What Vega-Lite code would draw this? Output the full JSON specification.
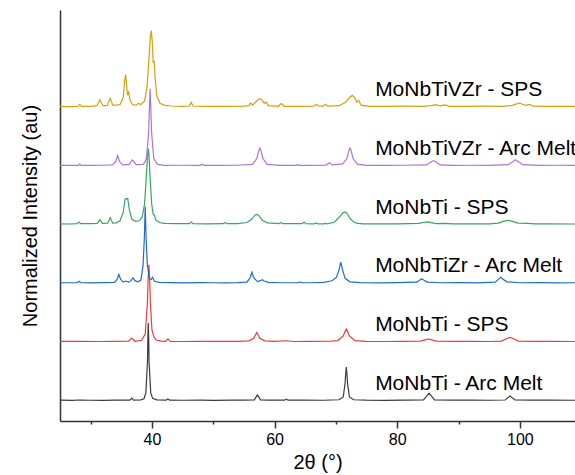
{
  "$schema": "https://vega.github.io/schema/vega-lite/v6.json",
  "width": 515,
  "height": 411,
  "autosize": {"type": "none"},
  "padding": {"left": 60, "top": 10, "right": 0, "bottom": 54},
  "background": "white",
  "config": {"view": {"stroke": null}, "font": "Liberation Sans"},
  "datasets": {
    "xrd": [
      {"run":0,"t":25,"i":0.005},{"run":0,"t":27,"i":0.0},{"run":0,"t":28.2,"i":0.008},{"run":0,"t":30,"i":0.003},{"run":0,"t":32,"i":0.0},{"run":0,"t":34,"i":0.005},{"run":0,"t":35.5,"i":0.004},{"run":0,"t":36.4,"i":0.005},{"run":0,"t":36.7,"i":0.04},{"run":0,"t":37.0,"i":0.005},{"run":0,"t":38.2,"i":0.01},{"run":0,"t":38.7,"i":0.03},{"run":0,"t":39.0,"i":0.13},{"run":0,"t":39.27,"i":0.66},{"run":0,"t":39.33,"i":1.05},{"run":0,"t":39.4,"i":1.32},{"run":0,"t":39.47,"i":1.05},{"run":0,"t":39.53,"i":0.66},{"run":0,"t":39.8,"i":0.13},{"run":0,"t":40.1,"i":0.035},{"run":0,"t":40.8,"i":0.01},{"run":0,"t":42.3,"i":0.005},{"run":0,"t":42.6,"i":0.025},{"run":0,"t":42.9,"i":0.004},{"run":0,"t":45,"i":0.003},{"run":0,"t":48,"i":0.006},{"run":0,"t":50,"i":0.002},{"run":0,"t":53,"i":0.005},{"run":0,"t":55,"i":0.004},{"run":0,"t":56.7,"i":0.01},{"run":0,"t":57.2,"i":0.094},{"run":0,"t":57.7,"i":0.01},{"run":0,"t":59,"i":0.005},{"run":0,"t":61.6,"i":0.004},{"run":0,"t":61.9,"i":0.02},{"run":0,"t":62.2,"i":0.004},{"run":0,"t":65,"i":0.006},{"run":0,"t":68,"i":0.003},{"run":0,"t":70.5,"i":0.012},{"run":0,"t":71.2,"i":0.06},{"run":0,"t":71.5,"i":0.29},{"run":0,"t":71.6,"i":0.46},{"run":0,"t":71.7,"i":0.57},{"run":0,"t":71.8,"i":0.46},{"run":0,"t":71.9,"i":0.29},{"run":0,"t":72.2,"i":0.06},{"run":0,"t":72.9,"i":0.012},{"run":0,"t":75,"i":0.005},{"run":0,"t":78,"i":0.002},{"run":0,"t":81,"i":0.006},{"run":0,"t":84.3,"i":0.01},{"run":0,"t":85.2,"i":0.123},{"run":0,"t":86.1,"i":0.01},{"run":0,"t":89,"i":0.004},{"run":0,"t":92,"i":0.006},{"run":0,"t":95,"i":0.003},{"run":0,"t":97.6,"i":0.008},{"run":0,"t":98.4,"i":0.077},{"run":0,"t":99.2,"i":0.008},{"run":0,"t":102,"i":0.004},{"run":0,"t":105,"i":0.006},{"run":0,"t":109,"i":0.003},

      {"run":1,"t":25,"i":1.005},{"run":1,"t":28,"i":1.008},{"run":1,"t":31,"i":1.004},{"run":1,"t":34,"i":1.006},{"run":1,"t":36.2,"i":1.008},{"run":1,"t":36.7,"i":1.063},{"run":1,"t":37.2,"i":1.008},{"run":1,"t":38.3,"i":1.025},{"run":1,"t":38.9,"i":1.13},{"run":1,"t":39.25,"i":1.65},{"run":1,"t":39.37,"i":2.05},{"run":1,"t":39.5,"i":2.31},{"run":1,"t":39.63,"i":2.05},{"run":1,"t":39.75,"i":1.65},{"run":1,"t":40.0,"i":1.2},{"run":1,"t":40.3,"i":1.085},{"run":1,"t":40.7,"i":1.03},{"run":1,"t":41.5,"i":1.01},{"run":1,"t":42.2,"i":1.006},{"run":1,"t":42.6,"i":1.05},{"run":1,"t":43.0,"i":1.006},{"run":1,"t":45,"i":1.004},{"run":1,"t":48,"i":1.008},{"run":1,"t":51,"i":1.005},{"run":1,"t":54,"i":1.007},{"run":1,"t":55.8,"i":1.015},{"run":1,"t":56.6,"i":1.06},{"run":1,"t":56.9,"i":1.12},{"run":1,"t":57.1,"i":1.158},{"run":1,"t":57.3,"i":1.12},{"run":1,"t":57.6,"i":1.06},{"run":1,"t":58.4,"i":1.015},{"run":1,"t":60,"i":1.005},{"run":1,"t":61.9,"i":1.017},{"run":1,"t":63,"i":1.004},{"run":1,"t":66,"i":1.006},{"run":1,"t":69,"i":1.008},{"run":1,"t":70.3,"i":1.02},{"run":1,"t":71.2,"i":1.1},{"run":1,"t":71.5,"i":1.18},{"run":1,"t":71.7,"i":1.216},{"run":1,"t":71.9,"i":1.18},{"run":1,"t":72.2,"i":1.1},{"run":1,"t":73.1,"i":1.02},{"run":1,"t":75,"i":1.006},{"run":1,"t":78,"i":1.004},{"run":1,"t":81,"i":1.007},{"run":1,"t":83.8,"i":1.01},{"run":1,"t":84.7,"i":1.035},{"run":1,"t":85.1,"i":1.046},{"run":1,"t":85.5,"i":1.035},{"run":1,"t":86.4,"i":1.01},{"run":1,"t":89,"i":1.005},{"run":1,"t":92,"i":1.007},{"run":1,"t":95,"i":1.004},{"run":1,"t":97.0,"i":1.012},{"run":1,"t":97.9,"i":1.055},{"run":1,"t":98.4,"i":1.073},{"run":1,"t":98.9,"i":1.055},{"run":1,"t":99.8,"i":1.012},{"run":1,"t":102,"i":1.005},{"run":1,"t":105,"i":1.007},{"run":1,"t":109,"i":1.004},

      {"run":2,"t":25,"i":2.005},{"run":2,"t":27.8,"i":2.005},{"run":2,"t":28.1,"i":2.03},{"run":2,"t":28.4,"i":2.005},{"run":2,"t":30,"i":2.004},{"run":2,"t":32,"i":2.007},{"run":2,"t":33.9,"i":2.01},{"run":2,"t":34.3,"i":2.06},{"run":2,"t":34.6,"i":2.145},{"run":2,"t":34.9,"i":2.06},{"run":2,"t":35.3,"i":2.015},{"run":2,"t":35.7,"i":2.034},{"run":2,"t":36.2,"i":2.015},{"run":2,"t":36.6,"i":2.04},{"run":2,"t":36.9,"i":2.089},{"run":2,"t":37.2,"i":2.04},{"run":2,"t":37.7,"i":2.02},{"run":2,"t":38.2,"i":2.05},{"run":2,"t":38.55,"i":2.3},{"run":2,"t":38.75,"i":2.75},{"run":2,"t":38.9,"i":3.3},{"run":2,"t":39.05,"i":2.75},{"run":2,"t":39.25,"i":2.3},{"run":2,"t":39.6,"i":2.07},{"run":2,"t":39.85,"i":2.06},{"run":2,"t":40.1,"i":2.1},{"run":2,"t":40.4,"i":2.03},{"run":2,"t":41.2,"i":2.01},{"run":2,"t":43,"i":2.006},{"run":2,"t":45,"i":2.004},{"run":2,"t":48,"i":2.007},{"run":2,"t":50,"i":2.005},{"run":2,"t":52,"i":2.004},{"run":2,"t":54,"i":2.006},{"run":2,"t":55.5,"i":2.015},{"run":2,"t":56.0,"i":2.09},{"run":2,"t":56.3,"i":2.184},{"run":2,"t":56.6,"i":2.09},{"run":2,"t":57.2,"i":2.025},{"run":2,"t":57.7,"i":2.04},{"run":2,"t":58.0,"i":2.055},{"run":2,"t":58.3,"i":2.035},{"run":2,"t":59,"i":2.01},{"run":2,"t":61,"i":2.005},{"run":2,"t":63.9,"i":2.006},{"run":2,"t":64.2,"i":2.017},{"run":2,"t":64.5,"i":2.006},{"run":2,"t":66,"i":2.005},{"run":2,"t":68,"i":2.01},{"run":2,"t":69.2,"i":2.035},{"run":2,"t":69.6,"i":2.055},{"run":2,"t":70.1,"i":2.1},{"run":2,"t":70.5,"i":2.22},{"run":2,"t":70.8,"i":2.354},{"run":2,"t":71.1,"i":2.22},{"run":2,"t":71.5,"i":2.08},{"run":2,"t":72.3,"i":2.02},{"run":2,"t":74,"i":2.007},{"run":2,"t":77,"i":2.004},{"run":2,"t":80,"i":2.006},{"run":2,"t":83.2,"i":2.015},{"run":2,"t":83.7,"i":2.05},{"run":2,"t":84.0,"i":2.072},{"run":2,"t":84.3,"i":2.05},{"run":2,"t":84.9,"i":2.015},{"run":2,"t":87,"i":2.005},{"run":2,"t":90,"i":2.007},{"run":2,"t":93,"i":2.004},{"run":2,"t":96.0,"i":2.015},{"run":2,"t":96.6,"i":2.07},{"run":2,"t":96.9,"i":2.099},{"run":2,"t":97.2,"i":2.07},{"run":2,"t":97.9,"i":2.02},{"run":2,"t":100,"i":2.005},{"run":2,"t":103,"i":2.006},{"run":2,"t":106,"i":2.004},{"run":2,"t":109,"i":2.005},

      {"run":3,"t":25,"i":3.008},{"run":3,"t":26.5,"i":3.005},{"run":3,"t":27.8,"i":3.012},{"run":3,"t":28.1,"i":3.04},{"run":3,"t":28.4,"i":3.012},{"run":3,"t":30,"i":3.01},{"run":3,"t":31.1,"i":3.015},{"run":3,"t":31.5,"i":3.08},{"run":3,"t":31.9,"i":3.015},{"run":3,"t":32.8,"i":3.02},{"run":3,"t":33.2,"i":3.114},{"run":3,"t":33.6,"i":3.02},{"run":3,"t":34.2,"i":3.025},{"run":3,"t":34.8,"i":3.06},{"run":3,"t":35.3,"i":3.2},{"run":3,"t":35.6,"i":3.42},{"run":3,"t":35.75,"i":3.44},{"run":3,"t":35.9,"i":3.43},{"run":3,"t":36.05,"i":3.44},{"run":3,"t":36.3,"i":3.25},{"run":3,"t":36.7,"i":3.09},{"run":3,"t":37.3,"i":3.05},{"run":3,"t":37.9,"i":3.06},{"run":3,"t":38.4,"i":3.12},{"run":3,"t":38.8,"i":3.35},{"run":3,"t":39.1,"i":3.85},{"run":3,"t":39.3,"i":4.2},{"run":3,"t":39.4,"i":4.29},{"run":3,"t":39.5,"i":4.2},{"run":3,"t":39.7,"i":3.8},{"run":3,"t":39.95,"i":3.35},{"run":3,"t":40.2,"i":3.17},{"run":3,"t":40.4,"i":3.153},{"run":3,"t":40.6,"i":3.08},{"run":3,"t":41.2,"i":3.03},{"run":3,"t":42,"i":3.015},{"run":3,"t":44,"i":3.01},{"run":3,"t":46.1,"i":3.012},{"run":3,"t":46.4,"i":3.04},{"run":3,"t":46.7,"i":3.012},{"run":3,"t":49,"i":3.008},{"run":3,"t":51.6,"i":3.01},{"run":3,"t":51.9,"i":3.03},{"run":3,"t":52.2,"i":3.01},{"run":3,"t":54,"i":3.012},{"run":3,"t":55.5,"i":3.03},{"run":3,"t":56.3,"i":3.09},{"run":3,"t":56.8,"i":3.16},{"run":3,"t":57.1,"i":3.17},{"run":3,"t":57.4,"i":3.15},{"run":3,"t":58.0,"i":3.07},{"run":3,"t":58.8,"i":3.025},{"run":3,"t":60.7,"i":3.01},{"run":3,"t":61.0,"i":3.03},{"run":3,"t":61.3,"i":3.01},{"run":3,"t":63,"i":3.01},{"run":3,"t":64.5,"i":3.012},{"run":3,"t":64.8,"i":3.04},{"run":3,"t":65.1,"i":3.012},{"run":3,"t":66.5,"i":3.008},{"run":3,"t":66.8,"i":3.022},{"run":3,"t":67.1,"i":3.008},{"run":3,"t":68.0,"i":3.008},{"run":3,"t":68.3,"i":3.017},{"run":3,"t":68.6,"i":3.008},{"run":3,"t":69.8,"i":3.04},{"run":3,"t":70.7,"i":3.14},{"run":3,"t":71.2,"i":3.2},{"run":3,"t":71.5,"i":3.21},{"run":3,"t":71.8,"i":3.19},{"run":3,"t":72.3,"i":3.1},{"run":3,"t":73.0,"i":3.03},{"run":3,"t":73.6,"i":3.017},{"run":3,"t":74.5,"i":3.008},{"run":3,"t":77,"i":3.006},{"run":3,"t":80,"i":3.008},{"run":3,"t":83.5,"i":3.015},{"run":3,"t":84.4,"i":3.035},{"run":3,"t":84.9,"i":3.04},{"run":3,"t":85.4,"i":3.033},{"run":3,"t":86.3,"i":3.012},{"run":3,"t":87.8,"i":3.017},{"run":3,"t":89,"i":3.007},{"run":3,"t":92,"i":3.006},{"run":3,"t":95,"i":3.008},{"run":3,"t":96.5,"i":3.02},{"run":3,"t":97.4,"i":3.055},{"run":3,"t":98.1,"i":3.068},{"run":3,"t":98.8,"i":3.05},{"run":3,"t":99.7,"i":3.02},{"run":3,"t":101.3,"i":3.017},{"run":3,"t":102.5,"i":3.006},{"run":3,"t":105,"i":3.007},{"run":3,"t":109,"i":3.005},

      {"run":4,"t":25,"i":4.004},{"run":4,"t":28.0,"i":4.005},{"run":4,"t":28.2,"i":4.03},{"run":4,"t":28.4,"i":4.005},{"run":4,"t":30,"i":4.004},{"run":4,"t":32,"i":4.006},{"run":4,"t":33.6,"i":4.012},{"run":4,"t":34.1,"i":4.07},{"run":4,"t":34.4,"i":4.17},{"run":4,"t":34.7,"i":4.07},{"run":4,"t":35.2,"i":4.012},{"run":4,"t":36.3,"i":4.02},{"run":4,"t":36.6,"i":4.07},{"run":4,"t":36.8,"i":4.097},{"run":4,"t":37.0,"i":4.07},{"run":4,"t":37.4,"i":4.015},{"run":4,"t":38.6,"i":4.02},{"run":4,"t":39.1,"i":4.12},{"run":4,"t":39.45,"i":4.55},{"run":4,"t":39.6,"i":5.0},{"run":4,"t":39.7,"i":5.31},{"run":4,"t":39.8,"i":5.0},{"run":4,"t":39.95,"i":4.55},{"run":4,"t":40.3,"i":4.12},{"run":4,"t":40.9,"i":4.02},{"run":4,"t":42,"i":4.005},{"run":4,"t":45,"i":4.006},{"run":4,"t":47.9,"i":4.005},{"run":4,"t":48.2,"i":4.025},{"run":4,"t":48.5,"i":4.005},{"run":4,"t":51,"i":4.004},{"run":4,"t":54,"i":4.006},{"run":4,"t":56.4,"i":4.02},{"run":4,"t":57.1,"i":4.12},{"run":4,"t":57.4,"i":4.25},{"run":4,"t":57.6,"i":4.3},{"run":4,"t":57.8,"i":4.25},{"run":4,"t":58.1,"i":4.12},{"run":4,"t":58.8,"i":4.02},{"run":4,"t":61,"i":4.004},{"run":4,"t":63.5,"i":4.004},{"run":4,"t":63.8,"i":4.017},{"run":4,"t":64.1,"i":4.004},{"run":4,"t":66,"i":4.005},{"run":4,"t":68.4,"i":4.008},{"run":4,"t":69.0,"i":4.05},{"run":4,"t":69.4,"i":4.012},{"run":4,"t":71.1,"i":4.03},{"run":4,"t":71.8,"i":4.12},{"run":4,"t":72.1,"i":4.25},{"run":4,"t":72.3,"i":4.3},{"run":4,"t":72.5,"i":4.25},{"run":4,"t":72.8,"i":4.12},{"run":4,"t":73.5,"i":4.025},{"run":4,"t":75,"i":4.005},{"run":4,"t":78,"i":4.004},{"run":4,"t":81,"i":4.006},{"run":4,"t":84.8,"i":4.012},{"run":4,"t":85.5,"i":4.06},{"run":4,"t":85.9,"i":4.085},{"run":4,"t":86.3,"i":4.06},{"run":4,"t":87.0,"i":4.012},{"run":4,"t":89,"i":4.004},{"run":4,"t":92,"i":4.006},{"run":4,"t":95,"i":4.005},{"run":4,"t":98.1,"i":4.015},{"run":4,"t":98.9,"i":4.07},{"run":4,"t":99.3,"i":4.1},{"run":4,"t":99.7,"i":4.07},{"run":4,"t":100.5,"i":4.015},{"run":4,"t":103,"i":4.004},{"run":4,"t":106,"i":4.006},{"run":4,"t":109,"i":4.004},

      {"run":5,"t":25,"i":5.008},{"run":5,"t":26.5,"i":5.006},{"run":5,"t":27.9,"i":5.01},{"run":5,"t":28.2,"i":5.043},{"run":5,"t":28.5,"i":5.01},{"run":5,"t":30,"i":5.008},{"run":5,"t":31.0,"i":5.02},{"run":5,"t":31.5,"i":5.12},{"run":5,"t":32.0,"i":5.02},{"run":5,"t":32.7,"i":5.02},{"run":5,"t":33.2,"i":5.145},{"run":5,"t":33.6,"i":5.03},{"run":5,"t":34.2,"i":5.03},{"run":5,"t":34.8,"i":5.04},{"run":5,"t":35.3,"i":5.15},{"run":5,"t":35.55,"i":5.45},{"run":5,"t":35.7,"i":5.55},{"run":5,"t":35.85,"i":5.4},{"run":5,"t":36.0,"i":5.2},{"run":5,"t":36.2,"i":5.25},{"run":5,"t":36.4,"i":5.12},{"run":5,"t":36.8,"i":5.04},{"run":5,"t":37.4,"i":5.03},{"run":5,"t":37.8,"i":5.06},{"run":5,"t":38.2,"i":5.04},{"run":5,"t":38.8,"i":5.1},{"run":5,"t":39.2,"i":5.35},{"run":5,"t":39.5,"i":5.8},{"run":5,"t":39.75,"i":6.2},{"run":5,"t":39.9,"i":6.3},{"run":5,"t":40.05,"i":6.1},{"run":5,"t":40.2,"i":5.75},{"run":5,"t":40.35,"i":5.79},{"run":5,"t":40.5,"i":5.5},{"run":5,"t":40.8,"i":5.18},{"run":5,"t":41.3,"i":5.06},{"run":5,"t":42,"i":5.03},{"run":5,"t":43,"i":5.015},{"run":5,"t":45,"i":5.01},{"run":5,"t":46.1,"i":5.015},{"run":5,"t":46.4,"i":5.077},{"run":5,"t":46.7,"i":5.015},{"run":5,"t":48.5,"i":5.008},{"run":5,"t":51,"i":5.01},{"run":5,"t":53,"i":5.008},{"run":5,"t":55.0,"i":5.012},{"run":5,"t":55.8,"i":5.02},{"run":5,"t":56.1,"i":5.065},{"run":5,"t":56.4,"i":5.03},{"run":5,"t":57.1,"i":5.1},{"run":5,"t":57.5,"i":5.14},{"run":5,"t":57.9,"i":5.12},{"run":5,"t":58.3,"i":5.06},{"run":5,"t":58.6,"i":5.08},{"run":5,"t":59.0,"i":5.02},{"run":5,"t":60.6,"i":5.01},{"run":5,"t":61.1,"i":5.055},{"run":5,"t":61.6,"i":5.01},{"run":5,"t":64,"i":5.008},{"run":5,"t":66.4,"i":5.012},{"run":5,"t":66.8,"i":5.043},{"run":5,"t":67.2,"i":5.015},{"run":5,"t":67.9,"i":5.012},{"run":5,"t":68.3,"i":5.043},{"run":5,"t":68.7,"i":5.012},{"run":5,"t":70.5,"i":5.02},{"run":5,"t":71.6,"i":5.08},{"run":5,"t":72.3,"i":5.17},{"run":5,"t":72.7,"i":5.196},{"run":5,"t":73.1,"i":5.15},{"run":5,"t":73.4,"i":5.08},{"run":5,"t":73.7,"i":5.11},{"run":5,"t":74.1,"i":5.03},{"run":5,"t":75.5,"i":5.01},{"run":5,"t":78,"i":5.008},{"run":5,"t":81,"i":5.012},{"run":5,"t":84,"i":5.01},{"run":5,"t":85.5,"i":5.02},{"run":5,"t":86.3,"i":5.037},{"run":5,"t":87.0,"i":5.018},{"run":5,"t":87.8,"i":5.034},{"run":5,"t":88.5,"i":5.01},{"run":5,"t":91,"i":5.008},{"run":5,"t":94,"i":5.012},{"run":5,"t":97,"i":5.01},{"run":5,"t":98.8,"i":5.025},{"run":5,"t":99.6,"i":5.055},{"run":5,"t":100.0,"i":5.065},{"run":5,"t":100.5,"i":5.04},{"run":5,"t":101.0,"i":5.025},{"run":5,"t":101.6,"i":5.043},{"run":5,"t":102.2,"i":5.012},{"run":5,"t":104,"i":5.008},{"run":5,"t":106,"i":5.01},{"run":5,"t":109,"i":5.008}
    ],
    "samples": [
      {"run":0,"sample":"MoNbTi - Arc Melt"},
      {"run":1,"sample":"MoNbTi - SPS"},
      {"run":2,"sample":"MoNbTiZr - Arc Melt"},
      {"run":3,"sample":"MoNbTi - SPS"},
      {"run":4,"sample":"MoNbTiVZr - Arc Melt"},
      {"run":5,"sample":"MoNbTiVZr - SPS"}
    ]
  },
  "data": {"name": "xrd"},
  "layer": [
    {
      "mark": {"type": "line", "strokeWidth": 1.2, "clip": true, "interpolate": "linear"},
      "encoding": {
        "x": {
          "field": "t",
          "type": "quantitative",
          "scale": {"domain": [25, 109], "nice": false, "zero": false},
          "axis": {
            "title": "2θ (°)",
            "values": [30, 40, 50, 60, 70, 80, 90, 100],
            "labelExpr": "datum.value % 20 === 0 ? datum.label : ''",
            "tickSize": {"condition": {"test": "datum.value % 20 === 0", "value": 7}, "value": 3},
            "grid": false,
            "domainColor": "#333333",
            "domainWidth": 1.5,
            "tickColor": "#333333",
            "tickWidth": 1.5,
            "labelFont": "Liberation Sans",
            "labelFontSize": 16,
            "labelColor": "#000000",
            "labelPadding": 3,
            "labelOverlap": false,
            "labelFlush": false,
            "titleFont": "Liberation Sans",
            "titleFontSize": 20,
            "titleFontWeight": "normal",
            "titleColor": "#000000",
            "titlePadding": 5
          }
        },
        "y": {
          "field": "i",
          "type": "quantitative",
          "scale": {"domain": [-0.35, 6.65], "nice": false, "zero": false},
          "axis": {
            "title": "Normalized Intensity (au)",
            "labels": false,
            "ticks": false,
            "grid": false,
            "domainColor": "#333333",
            "domainWidth": 1.5,
            "titleFont": "Liberation Sans",
            "titleFontSize": 20,
            "titleFontWeight": "normal",
            "titleColor": "#000000",
            "titlePadding": 20
          }
        },
        "color": {
          "field": "run",
          "type": "nominal",
          "scale": {
            "domain": [0, 1, 2, 3, 4, 5],
            "range": ["#3c3c3c", "#ee3b3b", "#1f6bd6", "#35a85e", "#ad73de", "#d4a10a"]
          },
          "legend": null
        }
      }
    },
    {
      "transform": [
        {"aggregate": [{"op": "min", "field": "i", "as": "base"}], "groupby": ["run"]},
        {"lookup": "run", "from": {"data": {"name": "samples"}, "key": "run", "fields": ["sample"]}}
      ],
      "mark": {"type": "text", "align": "left", "baseline": "middle", "dy": -16.5, "fontSize": 21, "font": "Liberation Sans", "color": "#000000"},
      "encoding": {
        "x": {"datum": 76.4, "type": "quantitative"},
        "y": {"field": "base", "type": "quantitative", "title": "Normalized Intensity (au)"},
        "text": {"field": "sample", "type": "nominal"}
      }
    }
  ]
}
